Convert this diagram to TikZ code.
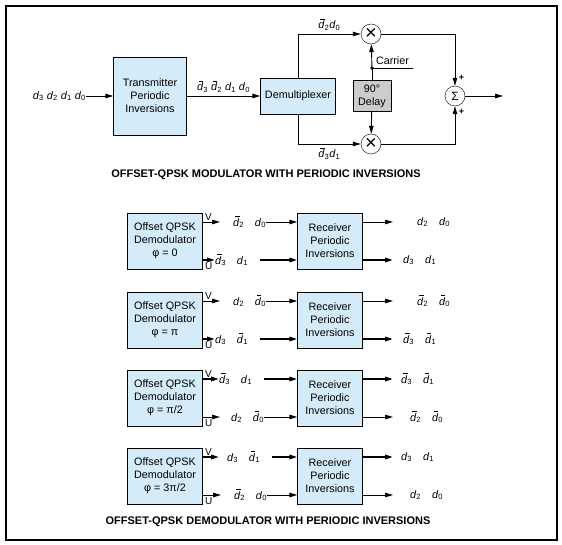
\documentclass[tikz,border=0pt]{standalone}
\usepackage{fontspec}
\setmainfont{Liberation Sans}
\usetikzlibrary{arrows.meta,positioning}
\definecolor{paleblue}{RGB}{212,236,250}
\definecolor{delaygray}{RGB}{204,204,204}
\newcommand{\dd}[1]{\textit{d}\textsubscript{#1}}
\newcommand{\db}[1]{\makebox[0pt][l]{\hspace{1.8pt}\rule[9.2pt]{4.6pt}{0.55pt}}\textit{d}\textsubscript{#1}}

\begin{document}
\begin{tikzpicture}[x=1pt,y=-1pt,font=\fontsize{10.8}{13}\selectfont]
  \tikzstyle{blk}=[draw,fill=paleblue,align=center,inner sep=1pt]
  \tikzstyle{dem}=[blk,minimum width=75pt,minimum height=56pt]
  \tikzstyle{rcv}=[blk,minimum width=65pt,minimum height=56pt]
  \tikzstyle{mix}=[draw,circle,minimum size=20pt,inner sep=0pt]
  \tikzstyle{pair}=[anchor=west,inner sep=0pt]
  \tikzstyle{port}=[inner sep=1pt,font=\fontsize{10}{12}\selectfont]
  \tikzstyle{flow}=[-{Triangle[length=8pt,width=4.5pt]},line width=0.9pt]
  \tikzstyle{fat}=[-{Triangle[length=8pt,width=4.5pt]},line width=1.8pt]
  \tikzstyle{caption}=[font=\fontsize{11}{13}\selectfont\bfseries]

  \useasboundingbox (0,0) rectangle (562,545);
  \draw[line width=1.5pt] (6,6) rectangle (557,540);

  % -- Modulator --
  \node[anchor=east,inner sep=0pt] (din) at (86,96) {\dd3 \dd2 \dd1 \dd0};
  \node[blk,minimum width=73pt,minimum height=78pt] (tpi) at (150,96) {Transmitter\\Periodic\\Inversions};
  \node[blk,minimum width=75pt,minimum height=36pt] (demux) at (298,96) {Demultiplexer};
  \node[mix] (mtop) at (371,34) {\fontsize{20}{20}\selectfont ×};
  \node[mix] (mbot) at (371,144) {\fontsize{20}{20}\selectfont ×};
  \node[draw,fill=delaygray,minimum width=38pt,minimum height=31pt,align=center,inner sep=1pt] (delay) at (372,96) {90°\\Delay};
  \node[mix] (sum) at (455,96) {\fontsize{12}{12}\selectfont Σ};
  \coordinate (car) at (372,68);
  \coordinate (carend) at (413,68);
  \coordinate (out) at (503,96);

  \draw[flow] (din) -- (tpi);
  \draw[flow] (tpi) -- node[above] {\db3 \db2 \dd1\ \dd0} (demux);
  \draw[flow] (demux.north) |- node[pos=0.75,above] {\db2\dd0} (mtop);
  \draw[flow] (demux.south) |- node[pos=0.75,below] {\db3\dd1} (mbot);
  \draw (delay.north) -- (car) -- node[above] {Carrier} (carend);
  \fill (car) circle (1.8pt);
  \draw[flow] (car) -- (mtop);
  \draw[flow] (delay) -- (mbot);
  \draw[flow] (mtop) -| node[pos=0.92,right,font=\fontsize{9}{9}\selectfont\bfseries] {+} (sum);
  \draw[flow] (mbot) -| node[pos=0.92,right,font=\fontsize{9}{9}\selectfont\bfseries] {+} (sum);
  \draw[flow] (sum) -- (out);

  \node[caption] (cap1) at (266,175) {OFFSET-QPSK MODULATOR WITH PERIODIC INVERSIONS};

  % -- Demodulator, phi = 0 --
  \node[dem] (dem1) at (165,241) {Offset QPSK\\Demodulator\\φ = 0};
  \node[rcv] (rpi1) at (330,241) {Receiver\\Periodic\\Inversions};
  \node[port,anchor=south west] (v1) at (204,222) {V};
  \node[port,anchor=north west] (u1) at (204,261) {U};
  \node[pair] (a1) at (233,222) {\db2\quad\dd0};
  \node[pair] (b1) at (215,260) {\db3\quad\dd1};
  \node[pair] (c1) at (417,222) {\dd2\quad\dd0};
  \node[pair] (e1) at (403,260) {\dd3\quad\dd1};
  \draw[flow,shorten >=13pt] (dem1.east |- a1) -- (a1);
  \draw[flow] (a1) -- (rpi1.west |- a1);
  \draw[fat] (dem1.east |- b1) -- (b1);
  \draw[fat,shorten <=12pt] (b1) -- (rpi1.west |- b1);
  \draw[flow,shorten >=24pt] (rpi1.east |- c1) -- (c1);
  \draw[fat,shorten >=10pt] (rpi1.east |- e1) -- (e1);

  % -- Demodulator, phi = pi --
  \node[dem] (dem2) at (165,320) {Offset QPSK\\Demodulator\\φ = π};
  \node[rcv] (rpi2) at (330,320) {Receiver\\Periodic\\Inversions};
  \node[port,anchor=south west] (v2) at (204,301) {V};
  \node[port,anchor=north west] (u2) at (204,340) {U};
  \node[pair] (a2) at (233,301) {\dd2\quad\db0};
  \node[pair] (b2) at (215,339) {\dd3\quad\db1};
  \node[pair] (c2) at (417,301) {\db2\quad\db0};
  \node[pair] (e2) at (403,339) {\db3\quad\db1};
  \draw[flow,shorten >=13pt] (dem2.east |- a2) -- (a2);
  \draw[flow] (a2) -- (rpi2.west |- a2);
  \draw[fat] (dem2.east |- b2) -- (b2);
  \draw[fat,shorten <=12pt] (b2) -- (rpi2.west |- b2);
  \draw[flow,shorten >=24pt] (rpi2.east |- c2) -- (c2);
  \draw[fat,shorten >=10pt] (rpi2.east |- e2) -- (e2);

  % -- Demodulator, phi = pi/2 --
  \node[dem] (dem3) at (165,398) {Offset QPSK\\Demodulator\\φ = π/2};
  \node[rcv] (rpi3) at (330,398) {Receiver\\Periodic\\Inversions};
  \node[port,anchor=south west] (v3) at (204,379) {V};
  \node[port,anchor=north west] (u3) at (204,418) {U};
  \node[pair] (a3) at (219,379) {\db3\quad\dd1};
  \node[pair] (b3) at (231,417) {\dd2\quad\db0};
  \node[pair] (c3) at (401,379) {\db3\quad\db1};
  \node[pair] (e3) at (410,417) {\db2\quad\db0};
  \draw[fat] (dem3.east |- a3) -- (a3);
  \draw[fat,shorten <=12pt] (a3) -- (rpi3.west |- a3);
  \draw[flow,shorten >=11pt] (dem3.east |- b3) -- (b3);
  \draw[flow] (b3) -- (rpi3.west |- b3);
  \draw[fat,shorten >=8pt] (rpi3.east |- c3) -- (c3);
  \draw[flow,shorten >=17pt] (rpi3.east |- e3) -- (e3);

  % -- Demodulator, phi = 3pi/2 --
  \node[dem] (dem4) at (165,476) {Offset QPSK\\Demodulator\\φ = 3π/2};
  \node[rcv] (rpi4) at (330,476) {Receiver\\Periodic\\Inversions};
  \node[port,anchor=south west] (v4) at (204,457) {V};
  \node[port,anchor=north west] (u4) at (204,496) {U};
  \node[pair] (a4) at (227,457) {\dd3\quad\db1};
  \node[pair] (b4) at (234,495) {\db2\quad\dd0};
  \node[pair] (c4) at (401,457) {\dd3\quad\dd1};
  \node[pair] (e4) at (410,495) {\dd2\quad\dd0};
  \draw[fat,shorten >=8pt] (dem4.east |- a4) -- (a4);
  \draw[fat,shorten <=12pt] (a4) -- (rpi4.west |- a4);
  \draw[flow,shorten >=13pt] (dem4.east |- b4) -- (b4);
  \draw[flow] (b4) -- (rpi4.west |- b4);
  \draw[fat,shorten >=8pt] (rpi4.east |- c4) -- (c4);
  \draw[flow,shorten >=17pt] (rpi4.east |- e4) -- (e4);

  \node[caption] (cap2) at (268,522) {OFFSET-QPSK DEMODULATOR WITH PERIODIC INVERSIONS};
\end{tikzpicture}
\end{document}
